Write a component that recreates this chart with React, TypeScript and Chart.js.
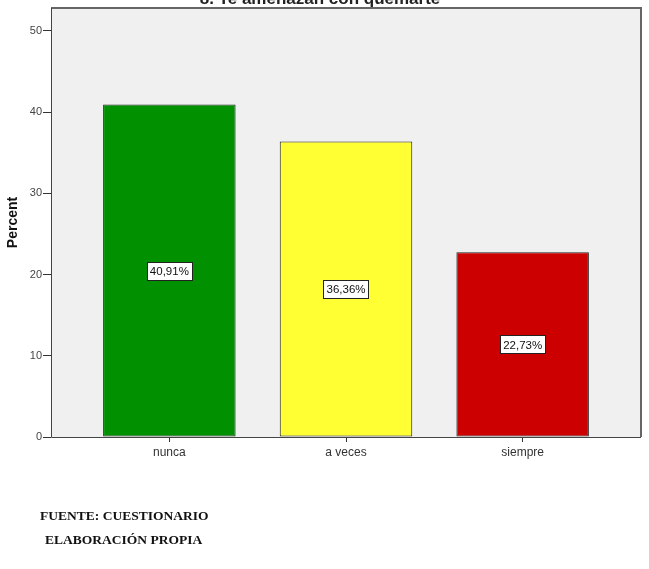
import React, { useEffect, useRef } from "react";
import { Chart, registerables } from "chart.js";

Chart.register(...registerables);

const titleText = "8. Te amenazan con quemarte";
const categories = ["nunca", "a veces", "siempre"];
const percents = [40.91, 36.36, 22.73];
const barColors = ["#009000", "#ffff33", "#cc0000"];
const yTicks = [0, 10, 20, 30, 40, 50];
const yAxisTitle = "Percent";
const footLines = ["FUENTE: CUESTIONARIO", "ELABORACIÓN PROPIA"];

const FONT = "'Liberation Sans', Arial, sans-serif";

const framePlugin = {
  id: "frame",
  beforeDatasetsDraw(chart: any) {
    const { ctx, chartArea } = chart;
    ctx.save();
    ctx.fillStyle = "#f0f0f0";
    ctx.fillRect(chartArea.left, chartArea.top, chartArea.right - chartArea.left, chartArea.bottom - chartArea.top);
    ctx.restore();
  },
  afterDraw(chart: any) {
    const { ctx, chartArea } = chart;
    ctx.save();
    ctx.strokeStyle = "#666666";
    ctx.lineWidth = 2;
    ctx.beginPath();
    ctx.moveTo(chartArea.left, chartArea.top);
    ctx.lineTo(chartArea.right, chartArea.top);
    ctx.lineTo(chartArea.right, chartArea.bottom);
    ctx.stroke();
    ctx.strokeStyle = "#444444";
    ctx.lineWidth = 1;
    ctx.beginPath();
    ctx.moveTo(chartArea.left + 0.5, chartArea.top);
    ctx.lineTo(chartArea.left + 0.5, chartArea.bottom + 0.5);
    ctx.lineTo(chartArea.right, chartArea.bottom + 0.5);
    ctx.stroke();
    // title (partially cropped at the top as in the reference)
    ctx.fillStyle = "#222";
    ctx.font = "bold 17px " + FONT;
    ctx.textAlign = "center";
    ctx.textBaseline = "alphabetic";
    ctx.fillText(titleText, 320, 4);
    ctx.restore();
  },
  afterDatasetsDraw(chart: any) {
    const { ctx } = chart;
    const meta = chart.getDatasetMeta(0);
    ctx.save();
    ctx.font = "11.5px " + FONT;
    ctx.textAlign = "center";
    ctx.textBaseline = "middle";
    meta.data.forEach((bar: any, i: number) => {
      const txt = percents[i].toFixed(2).replace(".", ",") + "%";
      const cx = bar.x;
      const cy = (bar.y + bar.base) / 2;
      const w = ctx.measureText(txt).width + 6;
      const h = 18;
      ctx.fillStyle = "#ffffff";
      ctx.fillRect(Math.round(cx - w / 2) + 0.5, Math.round(cy - h / 2) + 0.5, Math.round(w), h);
      ctx.strokeStyle = "#222222";
      ctx.lineWidth = 1;
      ctx.strokeRect(Math.round(cx - w / 2) + 0.5, Math.round(cy - h / 2) + 0.5, Math.round(w), h);
      ctx.fillStyle = "#111";
      ctx.fillText(txt, cx, cy + 1);
    });
    ctx.restore();
  },
};

export default function App() {
  const ref = useRef<HTMLCanvasElement>(null);
  useEffect(() => {
    if (!ref.current) return;
    const chart = new Chart(ref.current, {
      type: "bar",
      data: {
        datasets: [
          {
            data: categories.map((c, i) => ({ x: i, y: percents[i] })) as any,
            backgroundColor: barColors,
            borderColor: "#222222",
            borderWidth: 1,
            borderSkipped: false,
            barPercentage: 0.75,
            categoryPercentage: 1,
          },
        ],
      },
      options: {
        animation: false,
        responsive: false,
        maintainAspectRatio: false,
        layout: { padding: { top: 8, right: 8, bottom: 102, left: 0 } },
        plugins: { legend: { display: false }, tooltip: { enabled: false }, title: { display: false } },
        scales: {
          x: {
            type: "linear",
            min: -0.67,
            max: 2.67,
            offset: false,
            afterBuildTicks: (scale: any) => {
              scale.ticks = categories.map((_, i) => ({ value: i }));
            },
            afterFit: (scale: any) => {
              scale.height = 30;
            },
            ticks: {
              autoSkip: false,
              maxRotation: 0,
              padding: 3,
              color: "#333",
              font: { family: FONT, size: 12 },
              callback: (v: any) => categories[Math.round(Number(v))] ?? "",
            },
            grid: { display: true, offset: false, drawOnChartArea: false, tickLength: 5, color: "#333" },
            border: { display: false },
          },
          y: {
            type: "linear",
            min: 0,
            max: 52.8,
            afterBuildTicks: (scale: any) => {
              scale.ticks = yTicks.map((v) => ({ value: v }));
            },
            afterFit: (scale: any) => {
              scale.width = 51;
            },
            ticks: {
              padding: 1,
              color: "#444",
              font: { family: FONT, size: 11 },
            },
            grid: { display: true, drawOnChartArea: false, tickLength: 8, color: "#333" },
            border: { display: false },
            title: {
              display: true,
              text: yAxisTitle,
              color: "#111",
              font: { family: FONT, size: 14, weight: "bold" },
              padding: { top: 5, bottom: 0 },
            },
          },
        },
      },
      plugins: [framePlugin],
    });
    return () => chart.destroy();
  }, []);

  return (
    <div style={{ position: "fixed", left: 0, top: 0, width: 649, height: 569, background: "#fff" }}>
      <canvas ref={ref} width={649} height={569} style={{ display: "block" }} />
      <div
        style={{
          position: "absolute",
          left: 40,
          top: 507,
          fontFamily: "'Liberation Serif', 'Times New Roman', serif",
          fontWeight: "bold",
          fontSize: 13.5,
          color: "#111",
          whiteSpace: "pre",
        }}
      >
        <div style={{ height: 24, lineHeight: "18px" }}>{footLines[0]}</div>
        <div style={{ height: 18, lineHeight: "18px", paddingLeft: 5 }}>{footLines[1]}</div>
      </div>
    </div>
  );
}
